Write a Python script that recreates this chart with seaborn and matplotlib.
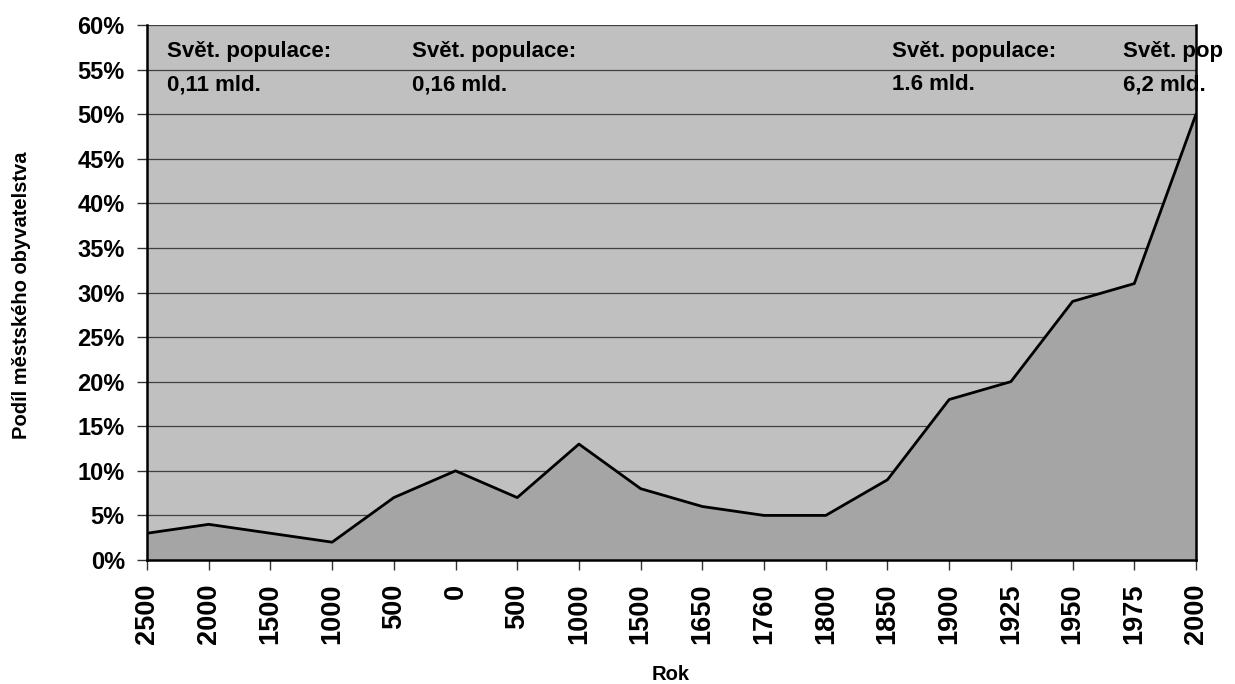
import matplotlib
matplotlib.use("Agg")
import matplotlib.pyplot as plt
import seaborn as sns
import pandas as pd
from matplotlib.ticker import FuncFormatter, MultipleLocator

years = ["2500", "2000", "1500", "1000", "500", "0", "500", "1000", "1500",
         "1650", "1760", "1800", "1850", "1900", "1925", "1950", "1975", "2000"]
urban_share = [3, 4, 3, 2, 7, 10, 7, 13, 8, 6, 5, 5, 9, 18, 20, 29, 31, 50]

notes_line1 = ["Svět. populace:", "Svět. populace:", "Svět. populace:", "Svět. pop"]
notes_line2 = ["0,11 mld.", "0,16 mld.", "1.6 mld.", "6,2 mld."]
notes_x = [0.33, 4.29, 12.08, 15.81]

sns.set_theme(style="white")
plt.rcParams['font.family'] = ['Liberation Sans', 'DejaVu Sans']
plt.rcParams['font.weight'] = 'bold'
plt.rcParams['text.color'] = 'black'
plt.rcParams['axes.labelcolor'] = 'black'
plt.rcParams['xtick.color'] = 'black'
plt.rcParams['ytick.color'] = 'black'

df = pd.DataFrame({"pos": list(range(len(years))), "share": urban_share})

fig = plt.figure(figsize=(12.35, 6.84), dpi=100)
ax = fig.add_axes([147/1235, 1-560/684, (1196-147)/1235, (560-25)/684])
ax.set_facecolor("#C0C0C0")

ax.fill_between(df["pos"], df["share"], 0, color="#A5A5A5", zorder=2, linewidth=0)
sns.lineplot(data=df, x="pos", y="share", ax=ax, color="black", linewidth=2.0, zorder=3)

ax.set_xlim(0, len(years) - 1)
ax.set_ylim(0, 60)
ax.yaxis.set_major_locator(MultipleLocator(5))
ax.yaxis.set_major_formatter(FuncFormatter(lambda v, p: f"{int(v)}%"))
ax.set_xticks(df["pos"])
ax.set_xticklabels(years, rotation=90, fontsize=19.5, fontweight='bold', color='black')
for lbl in ax.get_yticklabels():
    lbl.set_fontsize(17)
    lbl.set_fontweight('bold')
    lbl.set_color('black')

ax.grid(axis='y', color='#404040', linewidth=0.9, zorder=1)
ax.set_axisbelow(True)

ax.spines["top"].set_visible(False)
for s in ["left", "bottom", "right"]:
    ax.spines[s].set_color("black")
    ax.spines[s].set_linewidth(1.8)
ax.spines["right"].set_zorder(5)

ax.tick_params(axis='both', which='both', direction='out', length=7, width=1,
               color='#333333', bottom=True, left=True)
ax.tick_params(axis='y', pad=9)
ax.tick_params(axis='x', pad=10)

ax.set_xlabel("Rok", fontsize=14.5, fontweight='bold', color='black')
ax.xaxis.set_label_coords(671/1235 - 147/1235, 0, transform=fig.transFigure)
ax.xaxis.label.set_position((671/1235, 1-675/684))
ax.xaxis.label.set_va('center')
ax.set_ylabel("Podíl městského obyvatelstva", fontsize=14.5, fontweight='bold', color='black')
ax.yaxis.set_label_coords(22/1235, 1-295/684, transform=fig.transFigure)
ax.yaxis.label.set_va('center')

for x, l1, l2 in zip(notes_x, notes_line1, notes_line2):
    ax.text(x, 56.4, l1, fontsize=16, fontweight='bold', va='baseline', ha='left',
            color='black', zorder=6, clip_on=False)
    ax.text(x, 52.7, l2, fontsize=16, fontweight='bold', va='baseline', ha='left',
            color='black', zorder=6, clip_on=False)

fig.savefig("out.png", dpi=100)
